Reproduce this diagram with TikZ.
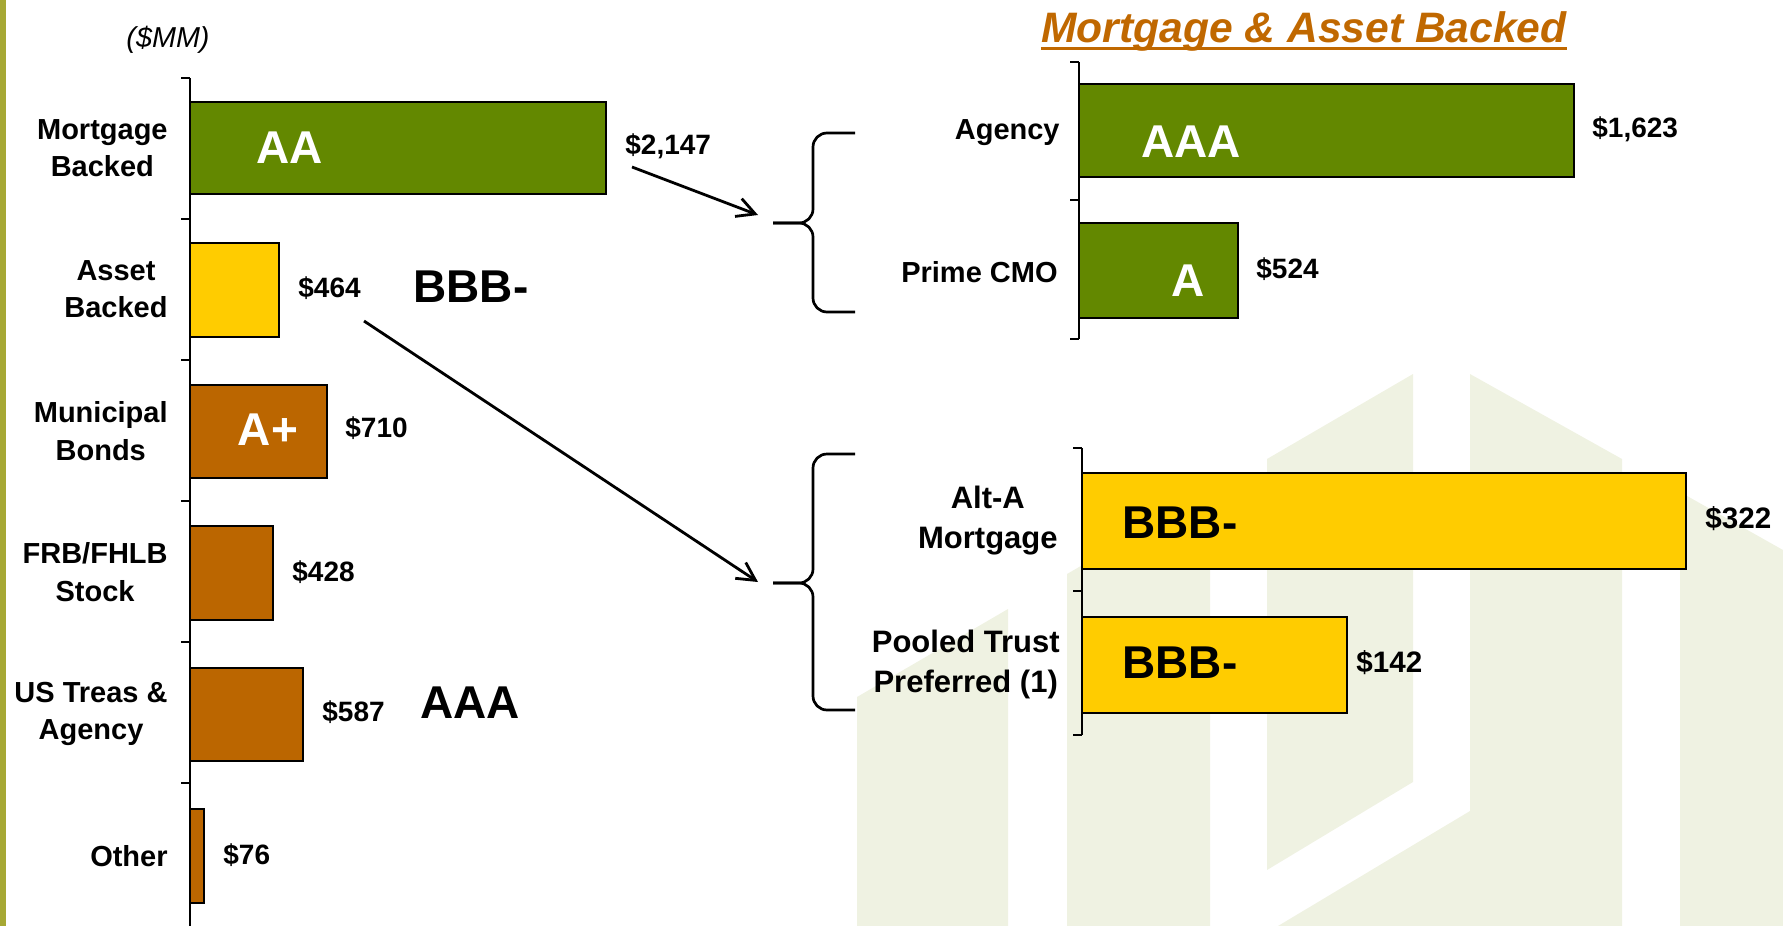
\documentclass[tikz,border=0pt]{standalone}
\usepackage{fontspec}
\setmainfont{Liberation Sans}
\usetikzlibrary{arrows.meta}
\definecolor{barGreen}{RGB}{99,136,0}
\definecolor{barGold}{RGB}{255,204,0}
\definecolor{barRust}{RGB}{187,102,0}
\definecolor{titleRust}{RGB}{192,104,0}
\definecolor{edgeOlive}{RGB}{166,168,52}
\definecolor{washc}{RGB}{239,242,226}

\begin{document}
\begin{tikzpicture}[x=0.5pt,y=-0.5pt,
  bar/.style={draw=black,line width=1pt},
  ax/.style={draw=black,line width=0.9pt},
  cat/.style={font=\bfseries\fontsize{14.5}{18.75}\selectfont,align=center,anchor=east,inner sep=0pt},
  catb/.style={cat,font=\bfseries\fontsize{15.5}{20}\selectfont},
  val/.style={font=\bfseries\fontsize{14}{17}\selectfont,anchor=west,inner sep=0pt},
  grade/.style={font=\bfseries\fontsize{23}{27}\selectfont,inner sep=0pt},
  brace/.style={draw=black,line width=1.35pt,rounded corners=7pt},
  pointer/.style={draw=black,line width=1.4pt,-{Straight Barb[length=9pt,width=9.5pt]}}]
\useasboundingbox (0,0) rectangle (1783,926);

% faint house-shaped logo in the background
\fill[washc] (857,926) -- (857,697) -- (1008,609) -- (1008,926) -- cycle;
\fill[washc] (1067,926) -- (1067,574) -- (1210,491) -- (1210,926) -- cycle;
\fill[washc] (1267,459) -- (1413,374) -- (1413,782) -- (1267,870) -- cycle;
\fill[washc] (1470,374) -- (1622,459) -- (1622,926) -- (1278,926) -- (1470,811) -- cycle;
\fill[washc] (1680,492) -- (1783,550) -- (1783,926) -- (1680,926) -- cycle;

% olive edge strip
\fill[edgeOlive] (0,0) rectangle (6,926);

% ---------- left chart: portfolio by type ----------
\node[font=\itshape\fontsize{14.4}{17}\selectfont,inner sep=0pt] (unit) at (168,40) {(\$MM)};

\draw[bar,fill=barGreen] (190,102) rectangle (606,194);
\draw[bar,fill=barGold]  (190,243) rectangle (279,337);
\draw[bar,fill=barRust]  (190,385) rectangle (327,478);
\draw[bar,fill=barRust]  (190,526) rectangle (273,620);
\draw[bar,fill=barRust]  (190,668) rectangle (303,761);
\draw[bar,fill=barRust]  (190,809) rectangle (204,903);

\draw[ax] (190,78) -- (190,926);
\foreach \t in {78,219,360,501,642,783} \draw[ax] (181,\t) -- (190,\t);

\node[cat] (cMB)  at (168,148) {Mortgage\\Backed};
\node[cat] (cAB)  at (168,289) {Asset\\Backed};
\node[cat] (cMun) at (168,431) {Municipal\\Bonds};
\node[cat] (cFRB) at (168,572) {FRB/FHLB\\Stock};
\node[cat] (cUS)  at (168,714) {US Treas \&\\Agency};
\node[cat] (cOth) at (168,856) {Other};

\node[val] (v2147) at (625,146) {\$2,147};
\node[val] (v464)  at (298,288) {\$464};
\node[val] (v710)  at (345,428) {\$710};
\node[val] (v428)  at (292,572) {\$428};
\node[val] (v587)  at (322,712) {\$587};
\node[val] (v76)   at (223,855) {\$76};

\node[grade,text=white] (gMB)  at (290,148) {AA};
\node[grade,text=white] (gMun) at (268,430) {A+};
\node[grade] (gAB) at (471,287) {BBB-};
\node[grade] (gUS) at (470,703) {AAA};

% ---------- right charts: mortgage & asset backed detail ----------
\node[font=\bfseries\itshape\fontsize{21.3}{25}\selectfont,text=titleRust,anchor=base,inner sep=0pt] (title) at (1304,42) {Mortgage \& Asset Backed};
\draw[titleRust,line width=1.75pt] (title.west |- 0,48.5) -- (title.east |- 0,48.5);

\draw[bar,fill=barGreen] (1079,84) rectangle (1574,177);
\draw[bar,fill=barGreen] (1079,223) rectangle (1238,318);
\draw[ax] (1079,62) -- (1079,339);
\foreach \t in {62,200,339} \draw[ax] (1070,\t) -- (1079,\t);

\node[cat] (cAg) at (1060,133) {Agency};
\node[cat] (cPr) at (1058,272) {Prime CMO};
\node[val] (v1623) at (1592,129) {\$1,623};
\node[val] (v524)  at (1256,269) {\$524};
\node[grade,text=white] (gAg) at (1191,142) {AAA};
\node[grade,text=white] (gPr) at (1188,281) {A};

\draw[bar,fill=barGold] (1082,473) rectangle (1686,569);
\draw[bar,fill=barGold] (1082,617) rectangle (1347,713);
\draw[ax] (1082,448) -- (1082,735);
\foreach \t in {448,591,735} \draw[ax] (1073,\t) -- (1082,\t);

\node[catb] (cAlt) at (1058,521) {Alt-A\\Mortgage};
\node[catb] (cPTP) at (1060,664) {Pooled Trust\\Preferred (1)};
\node[val,font=\bfseries\fontsize{14.8}{17}\selectfont] (v322) at (1705,519) {\$322};
\node[val,font=\bfseries\fontsize{14.8}{17}\selectfont] (v142) at (1356,663) {\$142};
\node[grade] (gAlt) at (1180,523) {BBB-};
\node[grade] (gPTP) at (1180,663) {BBB-};

% ---------- braces and pointers ----------
\coordinate (tipA) at (773,223);
\coordinate (tipB) at (773,583);
\draw[brace] (855,133) -- (813,133) -- (813,223) -- (tipA);
\draw[brace] (855,312) -- (813,312) -- (813,223) -- (tipA);
\draw[brace] (855,454) -- (813,454) -- (813,583) -- (tipB);
\draw[brace] (855,710) -- (813,710) -- (813,583) -- (tipB);

\coordinate (fromMB) at (632,167);
\coordinate (fromAB) at (364,321);
\coordinate (toA) at (758,215);
\coordinate (toB) at (758,582);
\draw[pointer] (fromMB) -- (toA);
\draw[pointer] (fromAB) -- (toB);
\end{tikzpicture}
\end{document}
